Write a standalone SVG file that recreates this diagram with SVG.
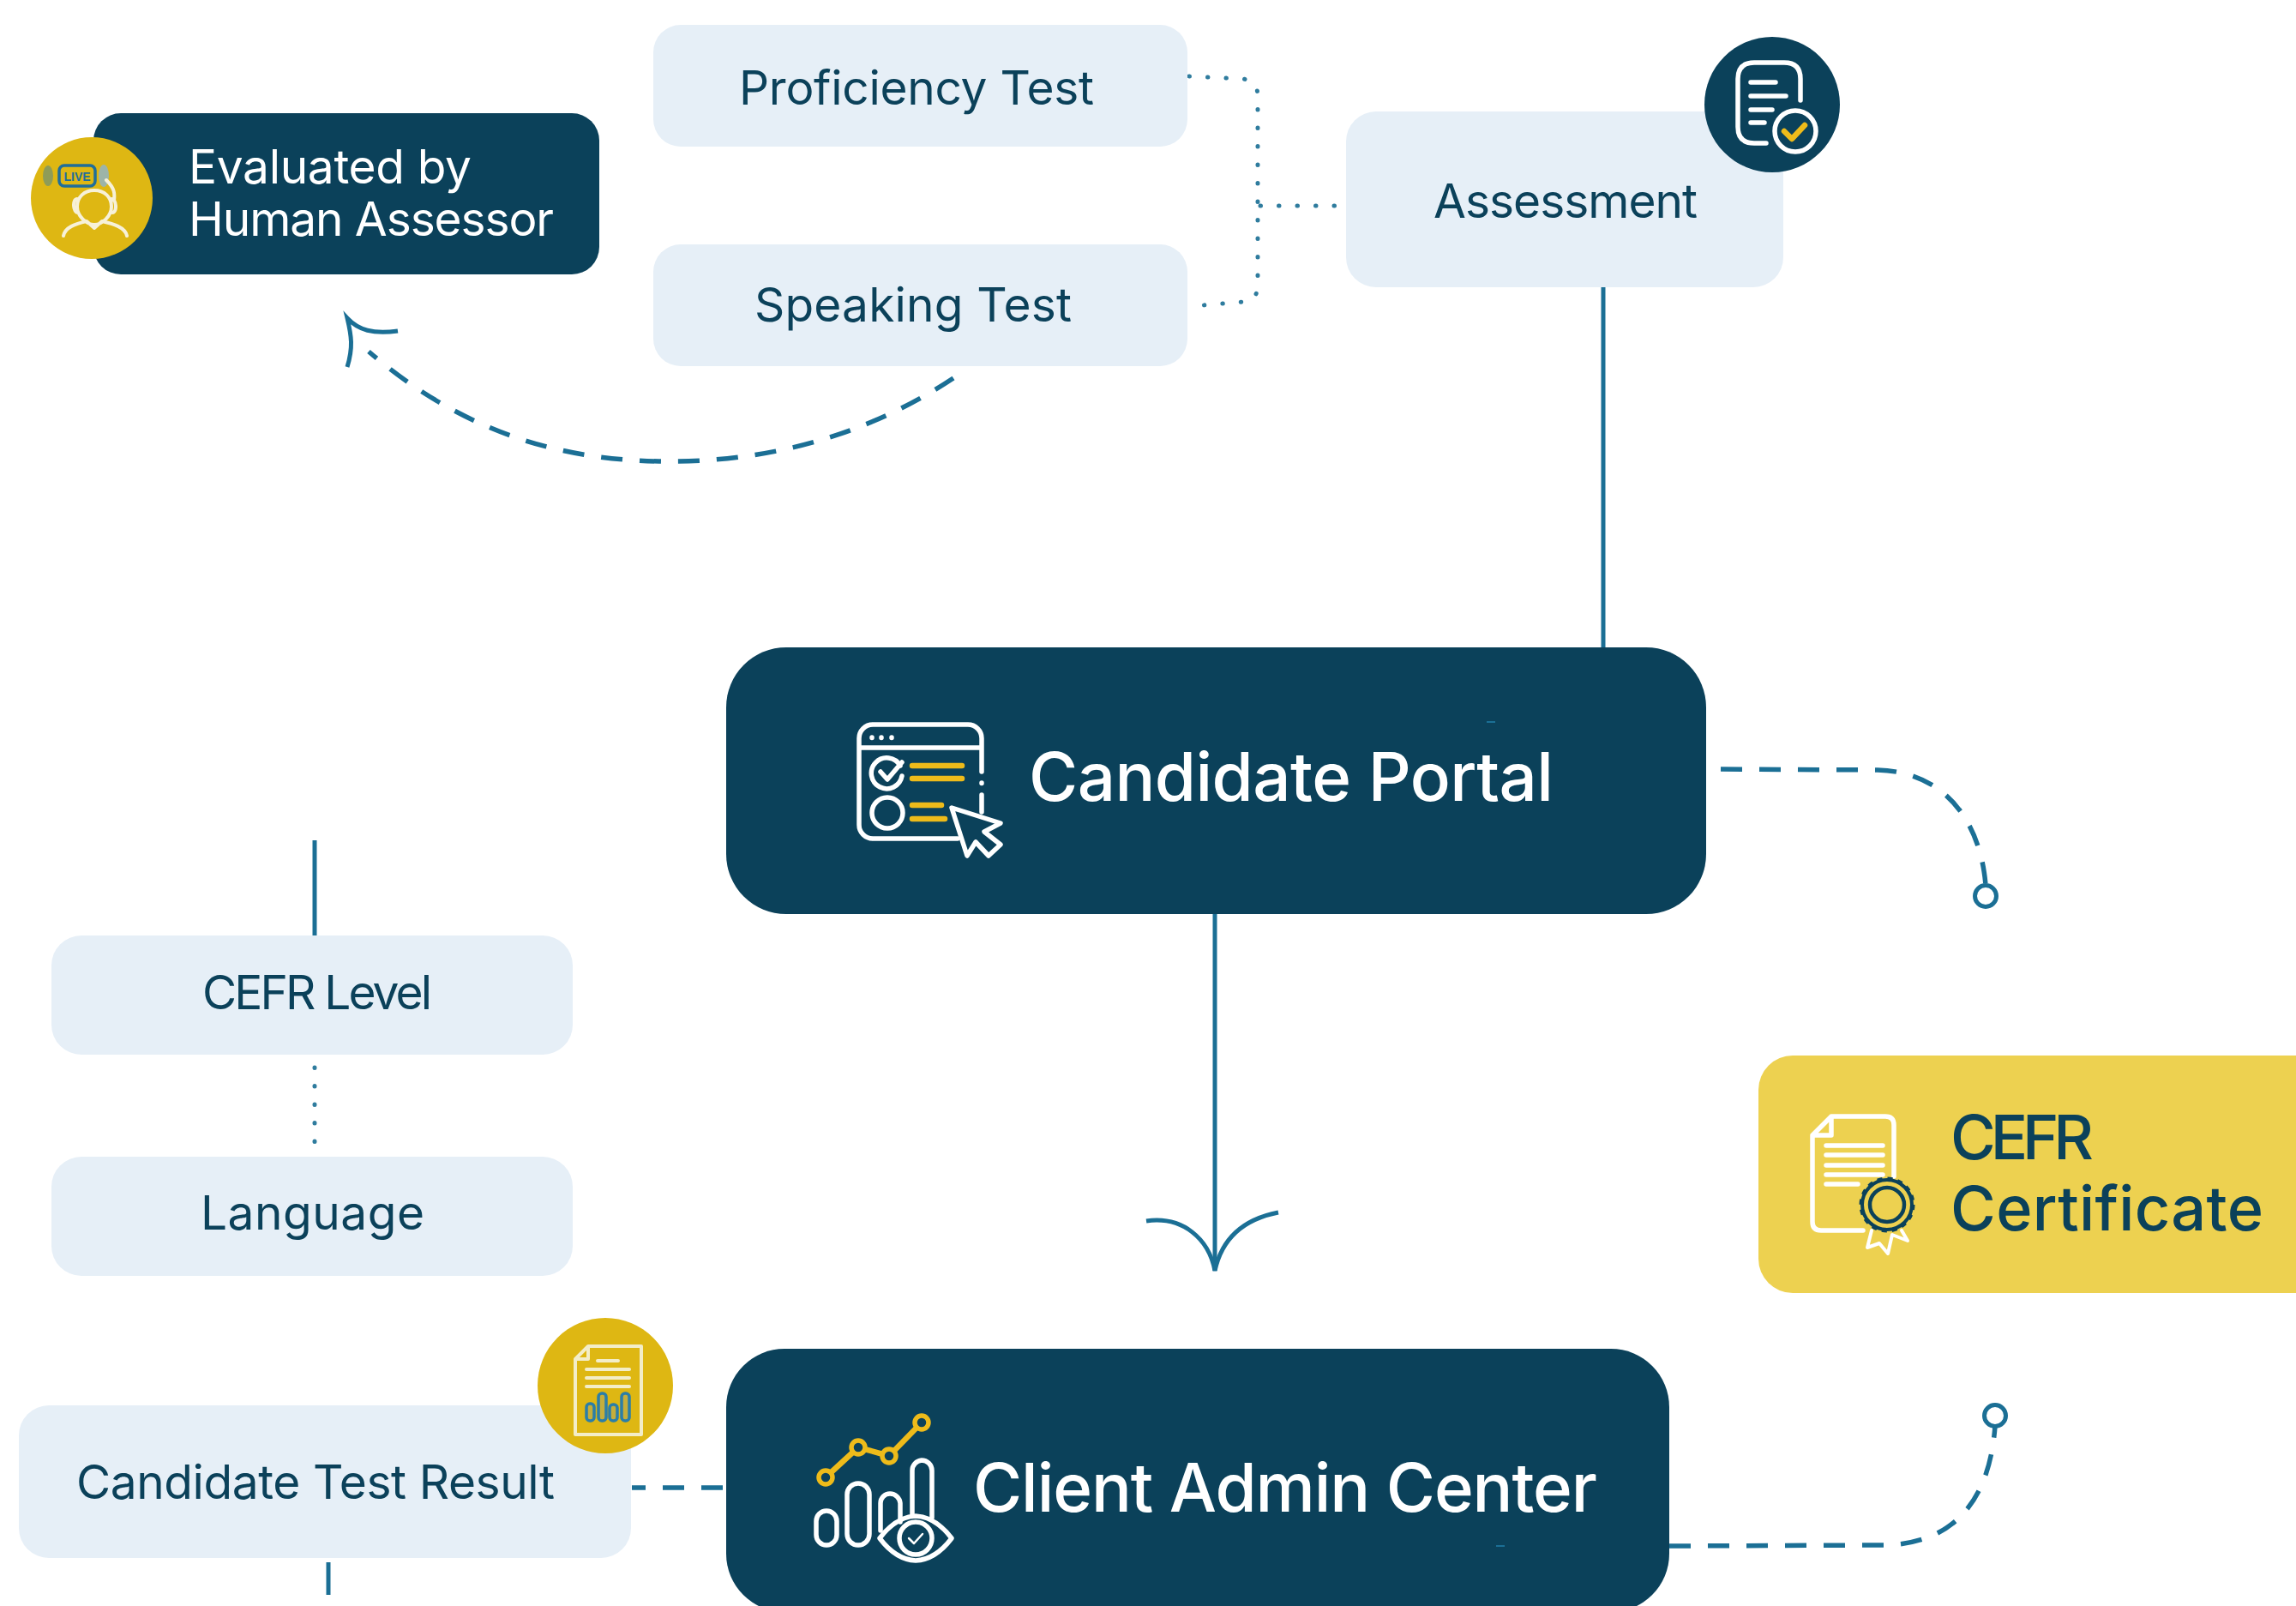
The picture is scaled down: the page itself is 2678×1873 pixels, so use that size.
<svg xmlns="http://www.w3.org/2000/svg" width="2678" height="1873" viewBox="0 0 2678 1873">
<defs>
<style>
.dark{fill:#0b415a}
.light{fill:#e6eff7}
.gold{fill:#deb713}
.t{font-family:"Inter","Noto Sans","Liberation Sans",sans-serif;font-size:55px;fill:#0b415a}
.w{fill:#fff}
.big{font-family:"Inter","Noto Sans","Liberation Sans",sans-serif;font-size:78px;font-weight:500}
.cert{font-size:72px;fill:#0b415a}
.line{fill:none;stroke:#1b6f95;stroke-width:5}
.dash{fill:none;stroke:#1b6f95;stroke-width:5.5;stroke-dasharray:25 20}
.dot{fill:none;stroke:#2f7c9e;stroke-width:5;stroke-linecap:round;stroke-dasharray:.5 21}
.iw{fill:none;stroke:#fff;stroke-width:5.5;stroke-linecap:round;stroke-linejoin:round}
.iy{fill:none;stroke:#eebb1a;stroke-width:6.5;stroke-linecap:round;stroke-linejoin:round}
.ic{fill:none;stroke:#f3edc8;stroke-width:4;stroke-linecap:round;stroke-linejoin:round}
.bar{fill:#c4ae3c;stroke:#2a7ea8;stroke-width:3.5}
</style>
</defs>
<rect width="2678" height="1873" fill="#fff"/>
<g id="connectors">
<path class="line" d="M1870 335V755"/>
<path class="line" d="M1417 1066V1482"/>
<path class="line" d="M1337 1424C1380 1418 1410 1445 1417 1482C1425 1445 1450 1422 1491 1414"/>
<path class="line" d="M367 980V1091"/>
<path class="dot" d="M367 1245V1337"/>
<path class="line" d="M383 1822V1860"/>
<path class="dash" stroke-dashoffset="9" d="M737 1735H847"/>
<path class="dot" d="M1387 89L1450 92Q1467 95 1467 112V335Q1465 352 1450 352L1403 356"/>
<path class="dot" d="M1470 240H1566"/>
<path class="dash" d="M1112 441C1000 515 880 540 769 538C640 536 530 496 430 410"/>
<path class="line" d="M464 386C435 390 418 385 405 371C410 392 412 405 405 428"/>
<path class="dash" d="M2007 897L2190 898C2270 900 2310 960 2316 1032"/>
<circle class="line" cx="2316" cy="1045" r="12.5"/>
<path class="dash" d="M1947 1803L2200 1802C2270 1800 2320 1760 2327 1663"/>
<circle class="line" cx="2327" cy="1651" r="12.5"/>
</g>
<g id="proficiency-test">
<rect class="light" x="762" y="29" width="623" height="142" rx="32"/>
<text class="t" x="862" y="122" textLength="414">Proficiency Test</text>
</g>
<g id="speaking-test">
<rect class="light" x="762" y="285" width="623" height="142" rx="32"/>
<text class="t" x="880" y="375" textLength="370">Speaking Test</text>
</g>
<g id="assessment">
<rect class="light" x="1570" y="130" width="510" height="205" rx="35"/>
<text class="t" x="1672" y="254" textLength="308">Assessment</text>
<circle class="dark" cx="2067" cy="122" r="79"/>
<path class="iw" d="M2100 117V92Q2100 73 2081 73H2046Q2027 73 2027 92V148Q2027 167 2046 167H2060M2042 96H2071M2042 112H2083M2042 128H2067M2042 143H2058"/>
<circle class="iw" cx="2094" cy="153" r="24"/>
<path class="iy" d="M2081 153L2090 162L2105 146"/>
</g>
<g id="evaluated-by-human-assessor">
<rect class="dark" x="109" y="132" width="590" height="188" rx="32"/>
<circle class="gold" cx="107" cy="231" r="71"/>
<ellipse cx="56" cy="205" rx="6" ry="12" fill="#8e9c58"/>
<ellipse cx="121" cy="205" rx="6" ry="13" fill="#9db4a8"/>
<rect x="69" y="193" width="42" height="24" rx="6" fill="none" stroke="#1f6e9a" stroke-width="3.5"/>
<text x="90" y="211" text-anchor="middle" font-family="Liberation Sans,sans-serif" font-size="14" font-weight="700" fill="#1f6e9a">LIVE</text>
<path d="M110 222C122 222 130 230 130 241C130 252 119 262 110 262C101 262 90 252 90 241C90 230 98 222 110 222ZM90 232C84 232 85 248 91 248M130 232C136 232 137 248 131 248M124 210C134 220 134 226 133 234M74 275C76 265 88 261 101 258L110 266L119 258C132 261 146 265 148 275" fill="none" stroke="#f7f1d8" stroke-width="4" stroke-linecap="round" stroke-linejoin="round"/>
<text class="t w" x="220" y="214" textLength="330">Evaluated by</text>
<text class="t w" x="220" y="275" textLength="426">Human Assessor</text>
</g>
<g id="candidate-portal">
<rect class="dark" x="847" y="755" width="1143" height="311" rx="70"/>
<path class="iw" d="M1117 978H1018A16 16 0 0 1 1002 962V861A16 16 0 0 1 1018 845H1129A16 16 0 0 1 1145 861V900M1145 927V947M1002 872H1145M1145 913V913.5M1017 860V860.5M1028 860V860.5M1040 860V860.5"/>
<path class="iw" d="M1050 893A18 18 0 1 0 1052 905M1027 900L1035 909L1052 889"/>
<circle class="iw" cx="1035" cy="948" r="18"/>
<path class="iy" d="M1064 893H1122M1064 908H1122M1064 939H1098M1064 955H1102"/>
<path class="iw" style="fill:#0b415a" d="M1110 942L1167 960L1148 970L1167 985L1153 998L1138 982L1128 998Z"/>
<text class="big w" x="1200" y="934" textLength="612">Candidate Portal</text>
<path d="M1734 842H1744" stroke="#1b6f95" stroke-width="2"/>
</g>
<g id="client-admin-center">
<rect class="dark" x="847" y="1573" width="1100" height="307" rx="68"/>
<path class="iw" d="M964 1762A12 12 0 0 0 952 1774V1790A12 12 0 0 0 964 1802A12 12 0 0 0 976 1790V1774A12 12 0 0 0 964 1762ZM1001 1730A13 13 0 0 0 988 1743V1789A13 13 0 0 0 1001 1802A13 13 0 0 0 1014 1789V1743A13 13 0 0 0 1001 1730ZM1027 1785V1753A11 11 0 0 1 1038 1742A12 12 0 0 1 1050 1753V1775M1064 1768V1715A12 12 0 0 1 1075 1703A12 12 0 0 1 1087 1715V1770"/>
<path class="iw" d="M1026 1794Q1045 1769 1068 1768Q1091 1769 1110 1794Q1091 1819 1068 1820Q1045 1819 1026 1794Z"/>
<circle class="iw" cx="1068" cy="1794" r="19"/>
<path class="iw" style="stroke-width:2.5" d="M1060 1794L1066 1800L1076 1789"/>
<path class="iy" d="M963 1723L1001 1688L1037 1698L1075 1659"/>
<g style="fill:#0b415a;stroke:#eebb1a;stroke-width:5.5">
<circle cx="963" cy="1723" r="8"/>
<circle cx="1001" cy="1688" r="8"/>
<circle cx="1037" cy="1698" r="8"/>
<circle cx="1075" cy="1659" r="8"/>
</g>
<text class="big w" x="1135" y="1763" textLength="728">Client Admin Center</text>
<path d="M1745 1803H1755" stroke="#1b6f95" stroke-width="2"/>
</g>
<g id="cefr-level">
<rect class="light" x="60" y="1091" width="608" height="139" rx="35"/>
<text class="t" x="236" y="1177" textLength="268">CEFR Level</text>
</g>
<g id="language">
<rect class="light" x="60" y="1349" width="608" height="139" rx="35"/>
<text class="t" x="234" y="1434" textLength="261">Language</text>
</g>
<g id="candidate-test-result">
<rect class="light" x="22" y="1639" width="714" height="178" rx="35"/>
<text class="t" x="89" y="1748" textLength="558">Candidate Test Result</text>
<circle class="gold" cx="706" cy="1616" r="79"/>
<path class="ic" d="M686 1570H748V1673H671V1585ZM686 1570V1585H671M697 1587H721M684 1597H734M684 1607H734M684 1617H734"/>
<rect class="bar" x="684" y="1637" width="9" height="20" rx="4"/>
<rect class="bar" x="698" y="1625" width="9" height="32" rx="4"/>
<rect class="bar" x="711" y="1638" width="9" height="19" rx="4"/>
<rect class="bar" x="725" y="1625" width="9" height="32" rx="4"/>
</g>
<g id="cefr-certificate">
<rect x="2051" y="1231" width="700" height="277" rx="40" fill="#edd150"/>
<path class="iw" d="M2209 1372V1312Q2209 1302 2199 1302H2136L2114 1324V1425Q2114 1435 2124 1435H2173M2136 1302V1324H2114M2130 1336H2196M2130 1347H2196M2130 1359H2196M2130 1370H2196M2130 1381H2167"/>
<path class="iw" style="stroke-width:4" d="M2183 1435L2178 1455L2192 1450L2202 1462L2207 1440L2225 1447L2218 1435"/>
<circle cx="2201" cy="1405" r="29" fill="#edd150" stroke="#0b415a" stroke-width="4"/>
<circle cx="2201" cy="1405" r="30.5" fill="none" stroke="#0b415a" stroke-width="4" stroke-dasharray="6 6"/>
<circle cx="2201" cy="1405" r="20" fill="#edd150" stroke="#0b415a" stroke-width="4.5"/>
<text class="big cert" x="2275" y="1352" textLength="167">CEFR</text>
<text class="big cert" x="2275" y="1435" textLength="365">Certificate</text>
</g>
</svg>
